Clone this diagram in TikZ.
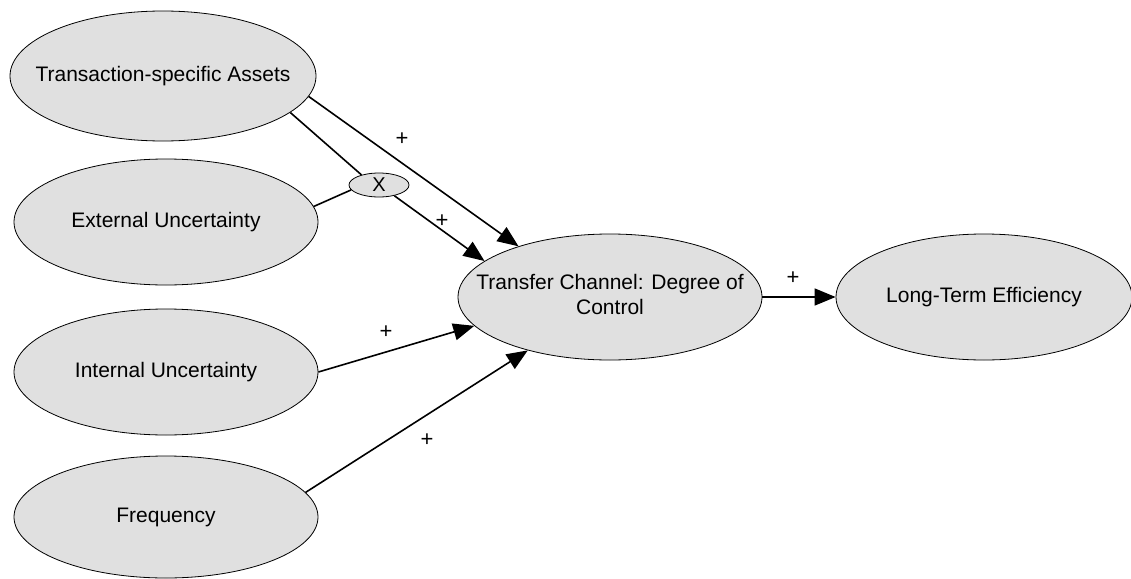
\documentclass[tikz,border=0pt]{standalone}
\usepackage{fontspec}
\setmainfont{Liberation Sans}
\usetikzlibrary{shapes.geometric,arrows.meta}
\definecolor{ellfill}{RGB}{224,224,224}
\newcommand{\zw}[1]{\makebox[0pt][c]{#1}}
\tikzset{
  ell/.style={ellipse, draw=black, line width=0.8pt, fill=ellfill, inner sep=0pt,
    minimum width=304pt, minimum height=126pt, font=\fontsize{21}{25}\selectfont},
  xell/.style={ellipse, draw=black, line width=0.8pt, fill=ellfill, inner sep=0pt,
    minimum width=60pt, minimum height=24pt, font=\fontsize{20}{22}\selectfont},
  conn/.style={line width=1.6pt, draw=black},
  arr/.style={conn, -{Triangle[length=21pt, width=17pt]}},
  plus/.style={font=\fontsize{22}{22}\selectfont, inner sep=0pt}
}
\begin{document}
\begin{tikzpicture}[x=1pt, y=-1pt]
\useasboundingbox (0,0) rectangle (1131,578);
\node[ell, minimum width=306pt, minimum height=130pt] (tsa) at (163,76) {\zw{Transaction-specific Assets}};
\node[ell] (ext) at (166,222) {\zw{External Uncertainty}};
\node[ell] (int) at (166,372) {\zw{Internal Uncertainty}};
\node[ell, minimum height=122pt] (freq) at (166,517) {\zw{Frequency}};
\node[ell] (tc) at (610,297) {\zw{\begin{tabular}{@{}c@{}}Transfer Channel: Degree of\\Control\end{tabular}}};
\node[ell, minimum width=296pt] (lte) at (984,297) {\zw{Long-Term Efficiency}};
\node[xell] (x) at (379,185) {\zw{X}};
% connectors
\draw[arr] (tsa.-8) -- (tc.151.5);
\draw[conn] (tsa.-16) -- (x.150);
\draw[conn] (ext.6.6) -- (x.190);
\draw[arr] (x.-35) -- (tc.164);
\draw[arr] (int.0) -- (tc.192.8);
\draw[arr] (freq.10) -- (tc.213.8);
\draw[arr] (tc.east) -- (lte.west);
% labels
\node[plus] (p1) at (402,139) {+};
\node[plus] (p2) at (442,221) {+};
\node[plus] (p3) at (386,332) {+};
\node[plus] (p4) at (427,440) {+};
\node[plus] (p5) at (793,278) {+};
\end{tikzpicture}
\end{document}
